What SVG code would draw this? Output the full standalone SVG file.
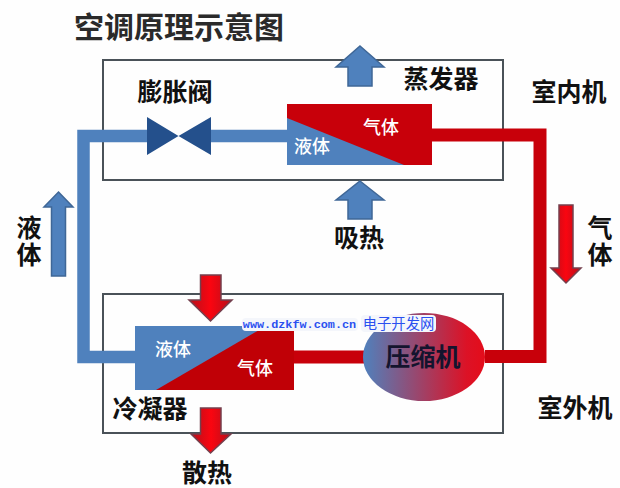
<svg xmlns="http://www.w3.org/2000/svg" width="620" height="488" viewBox="0 0 620 488">
<style>
text{font-family:"Noto Sans CJK SC","Noto Sans CJK JP",sans-serif;text-anchor:middle;fill:#111}
.l{font-size:25px;font-weight:700}
.v{writing-mode:vertical-rl;letter-spacing:2px}
.t{font-size:30px;font-weight:700;fill:#2a2a2a}
.w{font-size:18px;font-weight:500;fill:#fff}
.box{fill:none;stroke:#4a5258;stroke-width:2}
.bp{fill:none;stroke:#4f81bd;stroke-width:12.5}
.rp{fill:none;stroke:#c8000a;stroke-width:13}
.ba{fill:#4f81bd;stroke:#3f6797;stroke-width:1.5}
.ra{fill:url(#red);stroke:#74404e;stroke-width:1.5}
.wb{fill:#f4f6fb}
</style>
<defs>
<linearGradient id="red" x1="0" x2="1" y1="0" y2="0"><stop offset="0" stop-color="#b5101c"/><stop offset=".5" stop-color="#fa0510"/><stop offset="1" stop-color="#b5101c"/></linearGradient>
<linearGradient id="comp" x1="0" x2="1" y1="0" y2="0"><stop offset="0" stop-color="#4f81bd"/><stop offset=".85" stop-color="#dc1226"/><stop offset="1" stop-color="#e40c1a"/></linearGradient>
</defs>
<rect width="620" height="488" fill="#fefefe"/>
<text id="title" class="t" x="179" y="38">空调原理示意图</text>
<rect class="box" x="103" y="60" width="400" height="120"/>
<rect class="box" x="103" y="294" width="400" height="139"/>
<g id="connectors">
<path class="bp" d="M147 136H83.500V357H135"/>
<path class="bp" d="M211 136H287"/>
<path class="rp" d="M432 135H540V356.500H485"/>
<path class="rp" d="M294 357H364"/>
</g>
<g id="valve">
<path d="M147 117L178.500 136L147 155Z M211 117L178.500 136L211 155Z" fill="#24508c"/>
<text class="l" x="175" y="101">膨胀阀</text>
</g>
<g id="evaporator">
<rect x="287" y="104" width="145" height="61" fill="#c8000a"/>
<path d="M287 118L404 165H287Z" fill="#4f81bd"/>
<text class="w" x="312" y="153">液体</text>
<text class="w" x="381" y="134">气体</text>
<text class="l" x="441" y="88">蒸发器</text>
</g>
<g id="condenser">
<rect x="135" y="326" width="159" height="64" fill="#4f81bd"/>
<path d="M156 390L266 326H294V390Z" fill="#c00006"/>
<text class="w" x="173" y="356">液体</text>
<text class="w" x="255" y="375">气体</text>
<text class="l" x="150" y="418">冷凝器</text>
</g>
<g id="compressor">
<ellipse cx="424" cy="357" rx="61" ry="44" fill="url(#comp)"/>
<text class="l" x="423" y="366" style="fill:#14142e">压缩机</text>
</g>
<g id="arrow-evap-out"><path class="ba" d="M360 46L384 67H372V86H348V67H336Z"/></g>
<g id="arrow-evap-in"><path class="ba" d="M360 181L384 200H372V219H348V200H336Z"/><text class="l" x="359" y="247">吸热</text></g>
<g id="arrow-liquid"><path class="ba" d="M58.500 192L73 207H65.500V276H51.500V207H44Z"/><text class="l v" x="29" y="242">液体</text></g>
<g id="arrow-gas"><path class="ra" d="M559 205H573V268H581L566 283L551 268H559Z"/><text class="l v" x="600" y="242">气体</text></g>
<g id="arrow-cond-in"><path class="ra" d="M200.500 275H221V300H232L210.500 321L189 300H200.500Z"/></g>
<g id="arrow-cond-out"><path class="ra" d="M200.500 408H221V434H231L210.500 453L191 434H200.500Z"/><text class="l" x="207" y="482">散热</text></g>
<g id="indoor"><text class="l" x="569" y="101">室内机</text></g>
<g id="outdoor"><text class="l" x="575" y="417">室外机</text></g>
<g id="watermark">
<rect class="wb" x="242" y="318" width="116" height="13" rx="4"/>
<rect class="wb" x="361" y="315" width="75" height="17" rx="4"/>
<text x="299.500" y="328" style="font-family:'Liberation Mono',monospace;font-size:11.800px;fill:#2a50f0;font-weight:700">www.dzkfw.com.cn</text>
<text x="398.500" y="329" style="font-size:14.300px;fill:#2a50f0">电子开发网</text>
</g>
</svg>
